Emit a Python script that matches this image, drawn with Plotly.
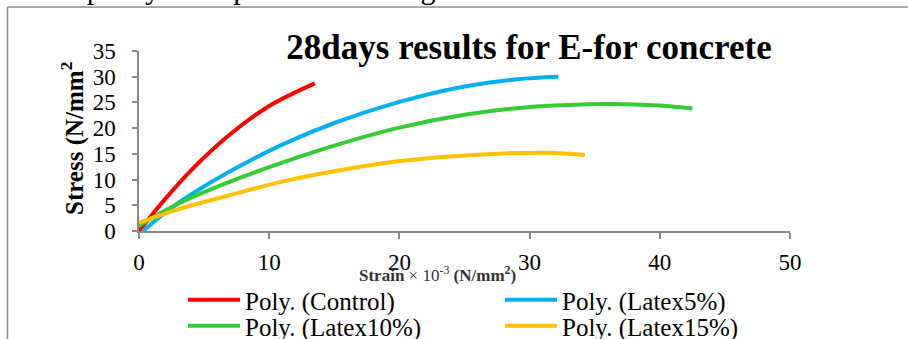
import plotly.graph_objects as go

# ---- data (trendline points) ----
control_x = [0, 2, 4, 7, 10, 13.5]
control_y = [0, 6.2, 11.8, 18.8, 24.3, 28.7]

latex5_x = [0.3, 3, 7, 11, 15, 20, 25, 29, 32.2]
latex5_y = [0, 5.4, 11.6, 16.8, 21.0, 25.1, 28.1, 29.5, 30.0]

latex10_x = [0, 3, 7, 11, 15, 20, 25, 30, 36, 40, 42.5]
latex10_y = [1.0, 5.3, 9.6, 13.3, 16.6, 20.1, 22.6, 24.1, 24.7, 24.4, 23.8]

latex15_x = [0, 3, 7, 11, 15, 20, 25, 29, 31.5, 34.25]
latex15_y = [1.6, 4.2, 7.0, 9.6, 11.6, 13.6, 14.7, 15.15, 15.2, 14.8]

series_names = ["Poly. (Control)", "Poly. (Latex5%)", "Poly. (Latex10%)", "Poly. (Latex15%)"]
series_colors = ["#FF0000", "#00B0F0", "#33CC33", "#FFC000"]
series_legend = ["legend", "legend", "legend2", "legend2"]

x_ticks = [0, 10, 20, 30, 40, 50]
y_ticks = [0, 5, 10, 15, 20, 25, 30, 35]

FONT = "Liberation Serif, Times New Roman, Times, serif"
AXIS_GRAY = "#878787"

fig = go.Figure()
for (xs, ys), name, col, lg in zip(
    [(control_x, control_y), (latex5_x, latex5_y), (latex10_x, latex10_y), (latex15_x, latex15_y)],
    series_names, series_colors, series_legend):
    fig.add_trace(go.Scatter(x=xs, y=ys, mode="lines", name=name, legend=lg,
                             line=dict(color=col, width=4, shape="spline", smoothing=1.0)))

W, H = 908, 339
L, R, T, B = 139, 118, 51, 108
pw = W - L - R
ph = H - T - B

def px2x(px):
    return (px - L) / pw

def px2y(py):
    return (H - B - py) / ph

legend_common = dict(orientation="h", xanchor="left", yanchor="middle",
                     font=dict(family=FONT, size=25, color="black"),
                     itemwidth=52, entrywidth=250, entrywidthmode="pixels",
                     bgcolor="rgba(0,0,0,0)", borderwidth=0, traceorder="normal")

fig.update_layout(
    width=W, height=H,
    margin=dict(l=L, r=R, t=T, b=B, pad=0, autoexpand=False),
    paper_bgcolor="white", plot_bgcolor="white",
    font=dict(family=FONT, color="black", size=21),
    showlegend=True,
    legend=dict(x=px2x(183), y=px2y(300), **legend_common),
    legend2=dict(x=px2x(183), y=px2y(326), **legend_common),
    title=dict(text="<b>28days results for E-for concrete</b>",
               font=dict(family=FONT, size=35, color="black"),
               x=px2x(529), xref="paper", xanchor="center",
               y=1 - 47 / H, yref="container", yanchor="middle"),
)

fig.update_xaxes(range=[0, 50], tickvals=x_ticks, ticktext=[str(v) for v in x_ticks],
                 showline=True, linecolor=AXIS_GRAY, linewidth=1.5,
                 ticks="outside", ticklen=6, tickcolor=AXIS_GRAY, tickwidth=1.5,
                 showgrid=False, zeroline=False, ticklabelstandoff=4,
                 tickfont=dict(family=FONT, size=23, color="black"))
fig.update_yaxes(range=[0, 35], tickvals=y_ticks, ticktext=[str(v) for v in y_ticks],
                 showline=True, linecolor=AXIS_GRAY, linewidth=1.5,
                 ticks="outside", ticklen=5, tickcolor=AXIS_GRAY, tickwidth=1.5,
                 showgrid=False, zeroline=False, ticklabelstandoff=12,
                 tickfont=dict(family=FONT, size=23, color="black"))

# y-axis title
fig.add_annotation(text="<b>Stress (N/mm<sup>2</sup></b>", textangle=-90,
                   xref="paper", yref="paper", x=px2x(72), y=px2y(139),
                   xanchor="center", yanchor="middle", showarrow=False,
                   font=dict(family=FONT, size=25, color="black"))
# x-axis title
fig.add_annotation(text="<b>Strain</b> × 10<sup>-3</sup> <b>(N/mm<sup>2</sup>)</b>",
                   xref="paper", yref="paper", x=px2x(437), y=px2y(274),
                   xanchor="center", yanchor="middle", showarrow=False,
                   font=dict(family=FONT, size=17, color="#333333"))
# partially visible document text above the frame
fig.add_annotation(text="001  capacity  Compression  Testing",
                   xref="paper", yref="paper", x=px2x(-2), y=px2y(7),
                   xanchor="left", yanchor="bottom", showarrow=False,
                   font=dict(family=FONT, size=30, color="black"))

# document frame (left and top border of the embedded chart)
fig.add_shape(type="line", xref="paper", yref="paper",
              x0=px2x(7.5), x1=px2x(7.5), y0=px2y(7), y1=px2y(345),
              line=dict(color="#8c8c8c", width=1.5))
fig.add_shape(type="line", xref="paper", yref="paper",
              x0=px2x(7.5), x1=px2x(915), y0=px2y(7), y1=px2y(7),
              line=dict(color="#8c8c8c", width=1.5))

fig.write_html("out.html", config={"displayModeBar": False},
               post_script="document.body.style.margin='0';document.body.style.overflow='hidden';")
